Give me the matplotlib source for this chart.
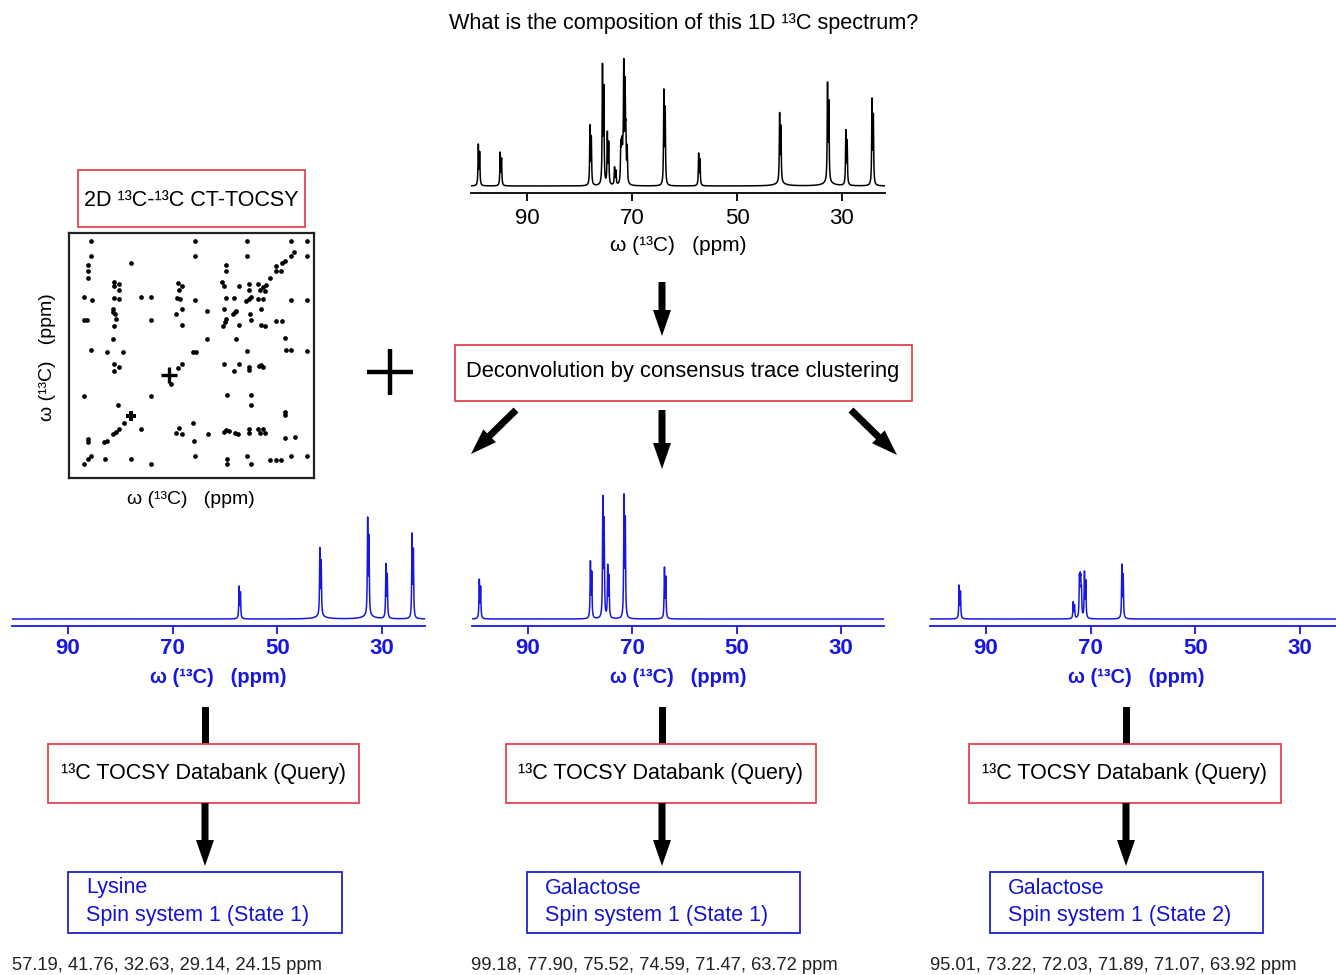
import matplotlib
matplotlib.use("Agg")
import matplotlib.pyplot as plt
import numpy as np
from matplotlib.patches import Rectangle, FancyArrow

plt.rcParams['font.family'] = ['Liberation Sans', 'DejaVu Sans']

W, H = 1336, 975

# measured 1D 13C spectrum of the mixture (ppm, intensity)
mixture_ppm = [99.18, 95.01, 77.90, 75.52, 74.59, 73.22, 72.03, 71.89, 71.47, 71.07,
               63.82, 57.19, 41.76, 32.63, 29.14, 24.15]
mixture_int = [42, 34, 61, 122, 53, 18, 37, 28, 120, 45, 97, 33, 71, 101, 56, 88]

# deconvoluted traces
lysine_ppm = [57.19, 41.76, 32.63, 29.14, 24.15]
lysine_int = [33, 69, 99, 55, 86]
gal1_ppm = [99.18, 77.90, 75.52, 74.59, 71.47, 63.72]
gal1_int = [40, 58, 123, 53, 125, 52]
gal2_ppm = [95.01, 73.22, 72.03, 71.89, 71.07, 63.92]
gal2_int = [34, 17, 38, 31, 47, 55]

# broad feet under some lysine lines
broad_ppm = [41.76, 32.63]
broad_int = [2.5, 3.0]

tick_ppm = [90, 70, 50, 30]
ppm_lo, ppm_hi = 21.8, 100.7

# 2D CT-TOCSY cross peaks (ppm, ppm)
tocsy_x = [93.8, 93.8, 94.9, 94.9, 94.9, 80.7, 86.4, 84.8, 86.4, 84.8, 96.2, 93.6, 86.2, 84.8,
           77.5, 74.2, 65.5, 64.1, 65.2, 65.7, 64.8, 59.7, 59.7, 59.7, 86.5, 86.5, 85.9, 85.5,
           86.4, 96.2, 95.1, 74.2, 64.1, 66.1, 64.1, 86.6, 93.8, 88.7, 83.3, 60.6,
           42.8, 28.6, 23.3, 42.8, 28.6, 27.5, 23.3, 49.6, 49.6, 30.6, 31.3, 33.3, 33.3, 31.7,
           35.5, 51.0, 50.5, 45.6, 42.2, 42.2, 39.3, 37.6, 38.7, 37.1, 36.6, 49.6, 47.2, 43.1,
           42.3, 41.5, 39.3, 37.6, 28.6, 23.3, 55.8, 50.5, 47.4, 46.9, 46.4, 42.0, 38.2, 50.7,
           50.1, 49.6, 45.6, 41.5, 38.2, 37.1, 33.3, 31.4, 55.8, 46.4, 30.6, 59.4, 42.8, 30.0,
           28.6, 23.3, 86.4, 84.8, 86.2, 65.5, 64.1, 67.7, 96.2, 74.2, 84.9, 82.9, 84.6, 85.6,
           86.7, 77.5, 60.6, 65.0, 66.0, 64.1, 94.9, 94.9, 88.7, 89.5, 60.1, 93.8, 94.9, 96.2,
           89.2, 80.7, 74.2, 59.8, 50.5, 47.2, 45.6, 42.2, 42.2, 39.0, 37.6, 38.2, 49.4, 41.7,
           41.7, 30.6, 30.6, 55.6, 50.5, 49.6, 48.7, 46.9, 45.8, 42.2, 42.2, 39.3, 37.6, 38.7,
           37.1, 30.6, 27.3, 49.4, 49.4, 42.8, 41.7, 35.5, 33.5, 31.7, 28.6, 23.3]
tocsy_y = [23.5, 28.6, 31.4, 33.5, 35.6, 30.8, 37.1, 37.6, 38.4, 39.5, 41.9, 42.9, 42.1, 42.4,
           42.0, 42.0, 37.4, 38.4, 39.6, 42.2, 42.5, 42.9, 23.5, 28.6, 45.8, 46.7, 47.5, 49.1,
           51.3, 49.3, 49.5, 49.3, 45.8, 47.4, 50.9, 55.6, 59.3, 59.9, 59.9, 59.7,
           23.5, 23.5, 23.5, 28.6, 28.4, 27.3, 28.6, 31.3, 33.5, 30.0, 30.9, 31.7, 33.5, 33.5,
           35.7, 37.1, 38.4, 38.4, 37.6, 39.6, 37.6, 38.7, 39.5, 39.8, 38.0, 42.1, 42.2, 43.1,
           42.4, 41.8, 42.5, 42.5, 42.9, 42.9, 46.4, 45.8, 47.4, 46.9, 46.4, 47.4, 45.8, 51.3,
           50.2, 49.1, 51.0, 49.3, 51.0, 51.4, 49.6, 49.6, 55.6, 55.6, 55.3, 59.7, 59.4, 59.1,
           59.1, 59.4, 63.9, 64.7, 66.0, 65.0, 63.9, 70.4, 74.2, 74.2, 77.2, 82.9, 85.1, 85.9,
           86.5, 85.1, 82.9, 84.7, 86.2, 86.5, 89.1, 88.3, 88.9, 89.2, 88.9, 93.8, 94.9, 96.5,
           94.9, 94.7, 96.5, 93.8, 63.9, 66.0, 63.9, 64.7, 65.8, 64.4, 64.7, 64.1, 74.0, 74.0,
           77.2, 80.5, 79.5, 86.7, 86.0, 85.4, 85.6, 86.2, 86.5, 84.9, 86.2, 85.1, 85.1, 86.2,
           86.2, 87.8, 87.6, 94.9, 96.5, 93.8, 96.5, 95.1, 95.1, 95.1, 93.8, 93.8]
tocsy_big_x = [68.2, 80.7]
tocsy_big_y = [67.5, 80.7]

blue = '#1717e0'
red = '#e0474f'

fig = plt.figure(figsize=(W / 100, H / 100), dpi=100)
fig.patch.set_facecolor('white')


def px_axes(x0, y0, x1, y1):
    return fig.add_axes([x0 / W, 1 - y1 / H, (x1 - x0) / W, (y1 - y0) / H])


# overlay in pixel units for boxes, arrows, text
ov = px_axes(0, 0, W, H)
ov.set_xlim(0, W)
ov.set_ylim(H, 0)
ov.set_axis_off()

grid = np.linspace(101.5, 21.0, 16101)


def lineshape(centers, heights, hw=0.07, split=0.25):
    # each line drawn as a close doublet, scaled so its top equals the given height
    k = 1 + 0.8 / (1 + (split / hw) ** 2)
    y = np.zeros_like(grid)
    for c, h in zip(centers, heights):
        y += h / k / (1 + ((grid - c - split / 2) / hw) ** 2)
        y += 0.8 * h / k / (1 + ((grid - c + split / 2) / hw) ** 2)
    return y


def broad(centers, heights, hw=1.2):
    y = np.zeros_like(grid)
    for c, h in zip(centers, heights):
        y += h / (1 + ((grid - c) / hw) ** 2)
    return y


def spectrum_axes(x0, x1, y_top, y_spine, y, color, bold):
    ax = px_axes(x0, y_top, x1, y_spine)
    ax.plot(grid, y, color=color, lw=1.1)
    ax.set_xlim(ppm_hi, ppm_lo)
    ax.set_ylim(-7, y_spine - y_top - 7)
    for s in ['top', 'left', 'right']:
        ax.spines[s].set_visible(False)
    ax.spines['bottom'].set_color(color)
    ax.spines['bottom'].set_linewidth(1.3)
    ax.set_yticks([])
    ax.set_xticks(tick_ppm)
    wt = 'bold' if bold else 'normal'
    ax.tick_params(axis='x', direction='out', length=6, width=1.3, colors=color,
                   labelsize=16, pad=5 if not bold else 3)
    for lab in ax.get_xticklabels():
        lab.set_fontweight(wt)
    ax.set_xlabel('ω (¹³C)   (ppm)', fontsize=15 if not bold else 14.5, color=color,
                  fontweight=wt, labelpad=5 if not bold else 6)
    ax.patch.set_visible(False)
    return ax


# top: mixture spectrum
spectrum_axes(471, 885, 50, 193, lineshape(mixture_ppm, mixture_int) + broad(broad_ppm, broad_int),
              'black', False)
# bottom: deconvoluted traces
spectrum_axes(12, 425, 485, 626, lineshape(lysine_ppm, lysine_int) + broad(broad_ppm, broad_int),
              blue, True)
spectrum_axes(472, 884, 485, 626, lineshape(gal1_ppm, gal1_int), blue, True)
spectrum_axes(930, 1343, 485, 626, lineshape(gal2_ppm, gal2_int), blue, True)

# 2D CT-TOCSY
ax2 = px_axes(69, 233, 314, 478)
ax2.plot(tocsy_x, tocsy_y, 'o', color='black', ms=3.4, mew=0)
ax2.plot(tocsy_big_x[:1], tocsy_big_y[:1], '+', color='black', ms=12, mew=2.4)
ax2.plot(tocsy_big_x[1:], tocsy_big_y[1:], 'P', color='black', ms=7, mew=0)
ax2.set_xlim(101, 21)
ax2.set_ylim(101, 21)
ax2.set_xticks([])
ax2.set_yticks([])
for s in ax2.spines.values():
    s.set_linewidth(1.6)
    s.set_color('#222222')
ov.text(191, 500, 'ω (¹³C)   (ppm)', fontsize=14, ha='center', va='center')
ov.text(48, 357, 'ω (¹³C)   (ppm)', fontsize=14, ha='center', va='center', rotation=90)

# title
ov.text(684, 24, 'What is the composition of this 1D ¹³C spectrum?', fontsize=15.6,
        ha='center', va='center')


def box(x0, y0, x1, y1, color):
    ov.add_patch(Rectangle((x0, y0), x1 - x0, y1 - y0, fill=False, ec=color, lw=1.3))


box(78, 170, 305, 227, red)
ov.text(191, 200, '2D ¹³C-¹³C CT-TOCSY', fontsize=15.5, ha='center', va='center')

box(455, 345, 912, 401, red)
ov.text(683, 372, 'Deconvolution by consensus trace clustering', fontsize=15.8,
        ha='center', va='center')

# big plus between the 2D and the deconvolution
ov.plot([367, 413], [372, 372], color='black', lw=3.2, solid_capstyle='butt')
ov.plot([390, 390], [349, 395], color='black', lw=3.2, solid_capstyle='butt')


def arrow(x, y, x2, y2):
    ov.add_patch(FancyArrow(x, y, x2 - x, y2 - y, width=7, head_width=18, head_length=26,
                            length_includes_head=True, color='black', lw=0))


arrow(662, 282, 662, 336)
arrow(662, 410, 662, 469)
arrow(516, 410, 471, 454)
arrow(851, 410, 897, 455)

cols = [205, 662, 1126]
query_boxes = [(48, 359), (506, 816), (969, 1281)]
result_boxes = [(68, 342), (527, 800), (990, 1263)]
names = ['Lysine', 'Galactose', 'Galactose']
states = ['Spin system 1 (State 1)', 'Spin system 1 (State 1)', 'Spin system 1 (State 2)']
shift_lists = ['57.19, 41.76, 32.63, 29.14, 24.15 ppm',
               '99.18, 77.90, 75.52, 74.59, 71.47, 63.72 ppm',
               '95.01, 73.22, 72.03, 71.89, 71.07, 63.92 ppm']
shift_x = [12, 471, 930]

for cx, (qx0, qx1), (rx0, rx1), nm, st, sl, sx in zip(cols, query_boxes, result_boxes, names,
                                                      states, shift_lists, shift_x):
    ov.add_patch(Rectangle((cx - 3.5, 707), 7, 37, color='black', lw=0))
    box(qx0, 744, qx1, 803, red)
    ov.text((qx0 + qx1) / 2, 773, '¹³C TOCSY Databank (Query)', fontsize=15.5,
            ha='center', va='center')
    arrow(cx, 803, cx, 866)
    box(rx0, 872, rx1, 933, '#2222cc')
    ov.text(rx0 + 18, 888, nm, fontsize=15.5, color='#1414d0', ha='left', va='center')
    ov.text(rx0 + 18, 915, st, fontsize=15.5, color='#1414d0', ha='left', va='center')
    ov.text(sx, 965, sl, fontsize=13.2, color='#222222', ha='left', va='center')

fig.savefig('out.png', dpi=100)
